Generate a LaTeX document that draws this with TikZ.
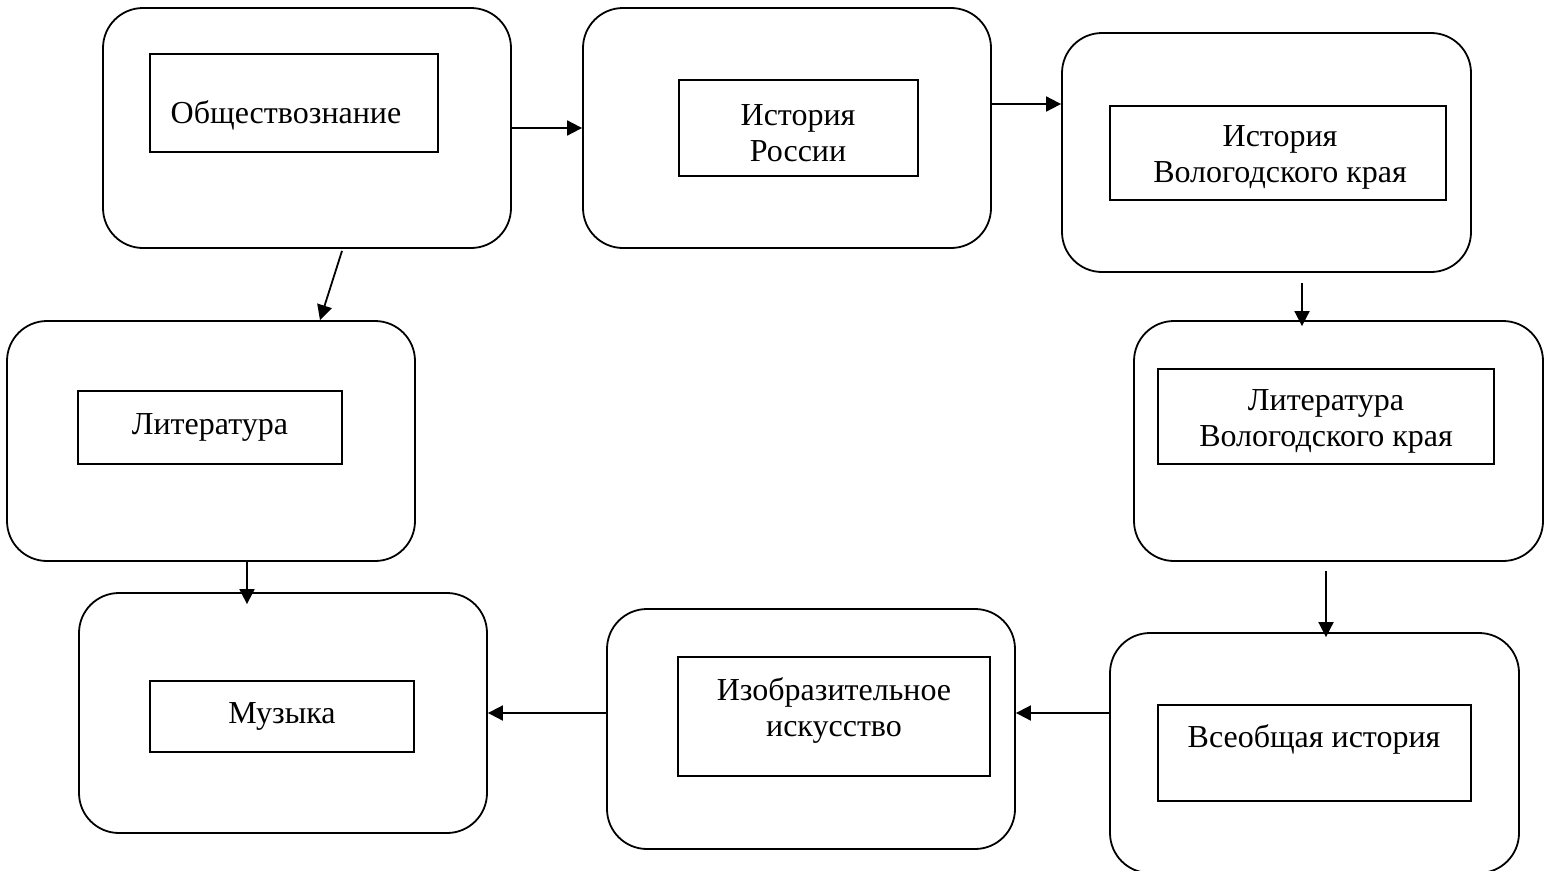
\documentclass[tikz,border=0pt]{standalone}
\usepackage{fontspec}
\setmainfont{Liberation Serif}
\usetikzlibrary{arrows.meta}
\begin{document}
\begin{tikzpicture}[x=1pt,y=-1pt,
  outer/.style={draw,line width=1.8pt,rounded corners=40pt,inner sep=0pt},
  inner/.style={draw,line width=1.8pt,inner sep=0pt},
  lbl/.style={align=center,inner sep=0pt,font=\fontsize{32}{36}\selectfont},
  arr/.style={line width=1.8pt,-{Triangle[length=15pt,width=15pt]}}]
\useasboundingbox (0,0) rectangle (1547,870);
% outer boxes
\node[outer,minimum width=408pt,minimum height=240pt] (o1) at (307,128) {};
\node[outer,minimum width=408pt,minimum height=240pt] (o2) at (787,128) {};
\node[outer,minimum width=409pt,minimum height=239pt] (o3) at (1266.5,152.5) {};
\node[outer,minimum width=408pt,minimum height=240pt] (o4) at (211,441) {};
\node[outer,minimum width=409pt,minimum height=240pt] (o5) at (1338.5,441) {};
\node[outer,minimum width=408pt,minimum height=240pt] (o6) at (283,713) {};
\node[outer,minimum width=408pt,minimum height=240pt] (o7) at (811,729) {};
\node[outer,minimum width=409pt,minimum height=240pt] (o8) at (1314.5,753) {};
% inner boxes
\node[inner,minimum width=288pt,minimum height=98pt] (i1) at (294,103) {};
\node[inner,minimum width=239pt,minimum height=96pt] (i2) at (798.5,128) {};
\node[inner,minimum width=336pt,minimum height=94pt] (i3) at (1278,153) {};
\node[inner,minimum width=264pt,minimum height=73pt] (i4) at (210,427.5) {};
\node[inner,minimum width=336pt,minimum height=95pt] (i5) at (1326,416.5) {};
\node[inner,minimum width=264pt,minimum height=71pt] (i6) at (282,716.5) {};
\node[inner,minimum width=312pt,minimum height=119pt] (i7) at (834,716.5) {};
\node[inner,minimum width=313pt,minimum height=96pt] (i8) at (1314.5,753) {};
% texts
\node[lbl] (t1) at (286,115) {Обществознание};
\node[lbl] (t2) at (798,133) {История\\России};
\node[lbl] (t3) at (1280,157) {История\\Вологодского края};
\node[lbl] (t4) at (210,427) {Литература};
\node[lbl] (t5) at (1326,421) {Литература\\Вологодского края};
\node[lbl] (t6) at (282,716) {Музыка};
\node[lbl] (t7) at (834,710) {Изобразительное\\искусство};
\node[lbl] (t8) at (1314,739) {Всеобщая история};
% arrows
\draw[arr] (o1.east) -- (o2.west);
\draw[arr] ([yshift=24pt]o2.east) -- ([yshift=48.5pt]o3.west);
\draw[arr] ([xshift=35pt,yshift=-2pt]o1.south) -- ([xshift=109pt]o4.north);
\draw[arr] ([xshift=35.5pt,yshift=-10pt]o3.south) -- ([xshift=-36.5pt,yshift=-6pt]o5.north);
\draw[arr] ([xshift=36pt]o4.south) -- ([xshift=-36pt,yshift=-12pt]o6.north);
\draw[arr] ([xshift=-12.5pt,yshift=-9pt]o5.south) -- ([xshift=11.5pt,yshift=-5pt]o8.north);
\draw[arr] ([yshift=40pt]o8.west) -- ([yshift=16pt]o7.east);
\draw[arr] ([yshift=16pt]o7.west) -- (o6.east);
\end{tikzpicture}
\end{document}
